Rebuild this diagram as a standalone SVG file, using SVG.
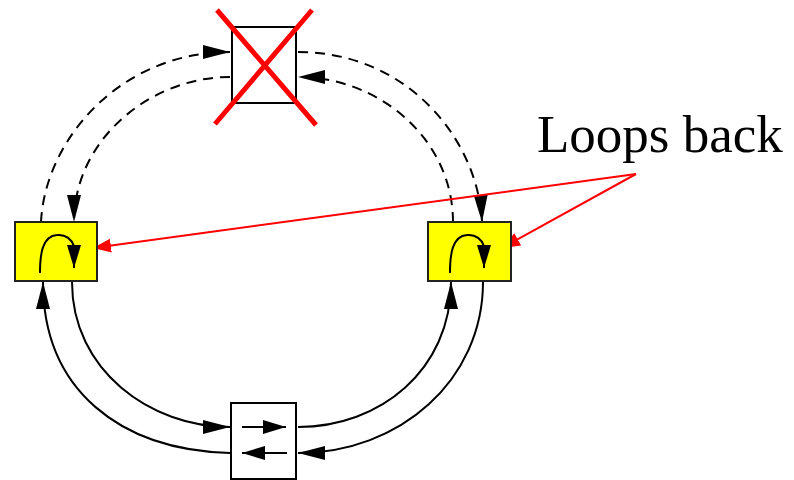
<svg xmlns="http://www.w3.org/2000/svg" width="794" height="480" viewBox="0 0 794 480">
<style>
.box{fill:#fff;stroke:#000;stroke-width:2}
.yel{fill:#ffff00;stroke:#222;stroke-width:2}
.ln{fill:none;stroke:#000;stroke-width:2}
.dash{stroke-dasharray:10 7}
.red{fill:none;stroke:#ff0000;stroke-width:2}
.cross{stroke:#ff0000;stroke-width:5;fill:none}
.lbl{font-family:"Liberation Serif","Times New Roman",serif;font-size:53px;fill:#000}
</style>
<defs>
<marker id="ah" markerUnits="userSpaceOnUse" markerWidth="30" markerHeight="16" refX="27" refY="7" orient="auto">
<path d="M0,0 L27,7 L0,14 z" fill="#000"/>
</marker>
<marker id="ahs" markerUnits="userSpaceOnUse" markerWidth="26" markerHeight="16" refX="23" refY="7" orient="auto">
<path d="M0,0 L23,7 L0,14 z" fill="#000"/>
</marker>
<marker id="rh" markerUnits="userSpaceOnUse" markerWidth="22" markerHeight="16" refX="18" refY="7" orient="auto">
<path d="M0,0 L18,7 L0,14 z" fill="#ff0000"/>
</marker>
</defs>
<g id="connectors">
<path class="ln dash" d="M41,222 C45,140 120,52 230,52" marker-end="url(#ah)"/>
<path class="ln dash" d="M230,77 C150,77 74,140 74,222" marker-end="url(#ah)"/>
<path class="ln dash" d="M298,52 C408,52 478,140 482,222" marker-end="url(#ah)"/>
<path class="ln dash" d="M453,222 C453,140 380,77 298,77" marker-end="url(#ah)"/>
<path class="ln" d="M72,282 C72,370 150,427 230,427" marker-end="url(#ah)"/>
<path class="ln" d="M230,453 C120,450 43,390 43,282" marker-end="url(#ah)"/>
<path class="ln" d="M298,427 C380,427 451,370 451,282" marker-end="url(#ah)"/>
<path class="ln" d="M483,282 C483,380 400,453 298,453" marker-end="url(#ah)"/>
<path class="red" d="M636,174 L93,248" marker-end="url(#rh)"/>
<path class="red" d="M636,174 L502,248" marker-end="url(#rh)"/>
</g>
<g id="node-top">
<rect class="box" x="232" y="27" width="64" height="76"/>
<path class="cross" d="M217,10 L316,125 M312,10 L215,124"/>
</g>
<g id="node-left">
<rect class="yel" x="15" y="222" width="82" height="59"/>
<path class="ln" d="M40,273 C40,255 42,236 57,235 C66,234 72,240 74,246 L74,268" marker-end="url(#ahs)"/>
</g>
<g id="node-right">
<rect class="yel" x="428" y="222" width="83" height="59"/>
<path class="ln" d="M450,273 C450,255 452,236 467,235 C476,234 482,240 484,246 L484,268" marker-end="url(#ahs)"/>
</g>
<g id="node-bottom">
<rect class="box" x="231" y="403" width="65" height="76"/>
<path class="ln" d="M242,427 L286,427" marker-end="url(#ahs)"/>
<path class="ln" d="M287,453 L242,453" marker-end="url(#ahs)"/>
</g>
<g id="label">
<text class="lbl" x="537" y="152">Loops back</text>
</g>
</svg>
